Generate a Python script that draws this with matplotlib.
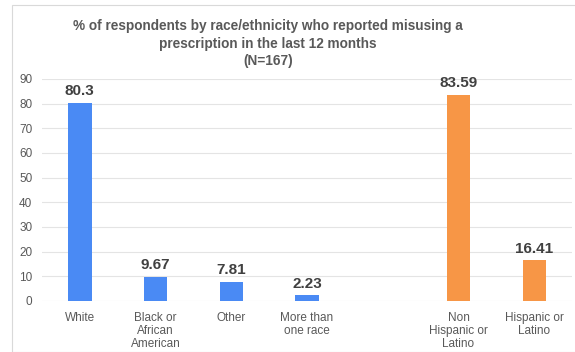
import numpy as np
import matplotlib.pyplot as plt
from matplotlib.patches import Rectangle

plt.rcParams['font.family'] = ['Liberation Sans', 'DejaVu Sans']

# data (slot 4 is the empty gap between the two groups)
categories = ['White', 'Black or\nAfrican\nAmerican', 'Other', 'More than\none race',
              '', 'Non\nHispanic or\nLatino', 'Hispanic or\nLatino']
values = [80.3, 9.67, 7.81, 2.23, None, 83.59, 16.41]
labels = ['80.3', '9.67', '7.81', '2.23', '', '83.59', '16.41']
groups = ['race', 'race', 'race', 'race', None, 'eth', 'eth']
colors = {'race': '#4a8af4', 'eth': '#f79646'}

fig = plt.figure(figsize=(5.75, 3.52), dpi=100)
ax = fig.add_axes([0.073, 0.145, 0.922, 0.631])

# light frame around the chart
fig.patches.append(Rectangle((12 / 575, 0), 1, 1 - 5 / 352, transform=fig.transFigure,
                             fill=False, edgecolor='#d9d9d9', linewidth=0.8))

x = np.arange(len(categories))
for i, (v, g, lab) in enumerate(zip(values, groups, labels)):
    if v is None:
        continue
    ax.bar(x[i], v, width=0.31, color=colors[g], zorder=2)
    ax.text(x[i], v + 2, lab, ha='center', va='bottom', fontsize=11,
            fontweight='bold', color='#404040')

ax.set_xlim(-0.5, 6.5)
ax.set_ylim(0, 90)
ax.set_yticks(np.arange(0, 91, 10))
ax.set_xticks(x)
ax.set_xticklabels(categories, fontsize=8.5, color='#595959', linespacing=1.12)
ax.tick_params(axis='y', labelsize=8.5, labelcolor='#595959', length=0, pad=7)
ax.tick_params(axis='x', length=0, pad=8)
ax.grid(axis='y', color='#e4e4e4', linewidth=0.8, zorder=0)
for s in ax.spines.values():
    s.set_visible(False)

fig.text(0.466, 0.945, '% of respondents by race/ethnicity who reported misusing a\n'
         'prescription in the last 12 months\n(N=167)',
         ha='center', va='top', fontsize=9.8, fontweight='bold', color='#595959',
         linespacing=1.3)

fig.savefig('out.png', dpi=100)
